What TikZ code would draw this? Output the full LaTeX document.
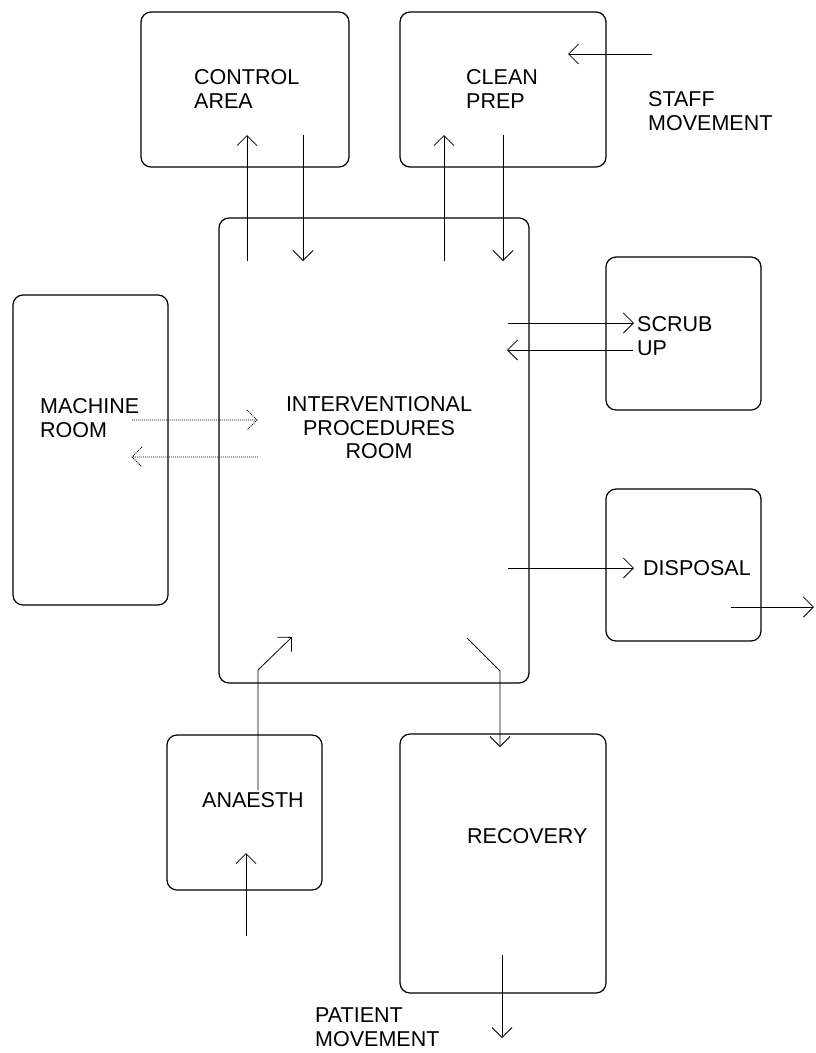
\documentclass[tikz,border=0pt]{standalone}
\usepackage{fontspec}
\setmainfont{Liberation Sans}
\usetikzlibrary{arrows.meta}

\begin{document}
\begin{tikzpicture}[x=1pt, y=-1pt, >={Straight Barb[length=10pt,width=20pt]},
    room/.style 2 args={draw, line width=1.2pt, rounded corners=10pt,
        minimum width=#1, minimum height=#2, inner sep=0pt},
    tag/.style={font=\fontsize{21.5}{23.5}\selectfont, align=left, inner sep=0pt, anchor=west},
    flow/.style={->, line width=0.8pt},
    flowdot/.style={line width=0.8pt, dash pattern=on 1pt off 1pt}]
\useasboundingbox (0,0) rectangle (815,1053);

% rooms
\node[room={208}{155}] (ctrl) at (245,89.5) {};
\node[room={206}{155}] (clean) at (503,89.5) {};
\node[room={310}{465}] (ipr) at (374,450.5) {};
\node[room={155}{153}] (scrub) at (683.5,333.5) {};
\node[room={155}{310}] (machine) at (90.5,450) {};
\node[room={155}{152}] (disposal) at (683.5,565) {};
\node[room={155}{155}] (anaesth) at (244.5,812.5) {};
\node[room={206}{259}] (recovery) at (503,863.5) {};

% labels
\node[tag] (ctrl-t) at (194,89) {CONTROL\\AREA};
\node[tag] (clean-t) at (466,89) {CLEAN\\PREP};
\node[tag] (staff-t) at (648,111) {STAFF\\MOVEMENT};
\node[tag] (scrub-t) at (637,336) {SCRUB\\UP};
\node[tag] (machine-t) at (40,418) {MACHINE\\ROOM};
\node[tag, align=center, anchor=center] (ipr-t) at (379,428)
    {INTERVENTIONAL\\PROCEDURES\\ROOM};
\node[tag] (disposal-t) at (643,568) {DISPOSAL};
\node[tag] (anaesth-t) at (202,800) {ANAESTH};
\node[tag] (recovery-t) at (467,836) {RECOVERY};
\node[tag] (patient-t) at (315,1027) {PATIENT\\MOVEMENT};

% staff flows
\foreach \x/\ya/\yb in {247/261/135, 303/135/261, 444/261/135, 503/135/261}
    \draw[flow] (\x,\ya) -- (\x,\yb);
\draw[flow] (652,54) -- (568,54);
\draw[flow] (508,323) -- (634,323);
\draw[flow] (633,350) -- (507,350);
\draw[flow] (508,568) -- (634,568);
\draw[flow] (731,607) -- (814,607);
% machine room flows, dotted heads drawn by hand
\draw[flowdot] (132,420) -- (257,420) (247,410) -- (257,420) -- (247,430);
\draw[flowdot] (258,457) -- (132,457) (142,447) -- (132,457) -- (142,467);

% patient flows
\draw[flow] (246,936) -- (246,853);
\draw[flow] (258,790) -- (258,670) -- (292,637);
\draw[flow] (467,638) -- (500,671) -- (500,747);
\draw[flow] (502,955) -- (502,1038);
\end{tikzpicture}
\end{document}
